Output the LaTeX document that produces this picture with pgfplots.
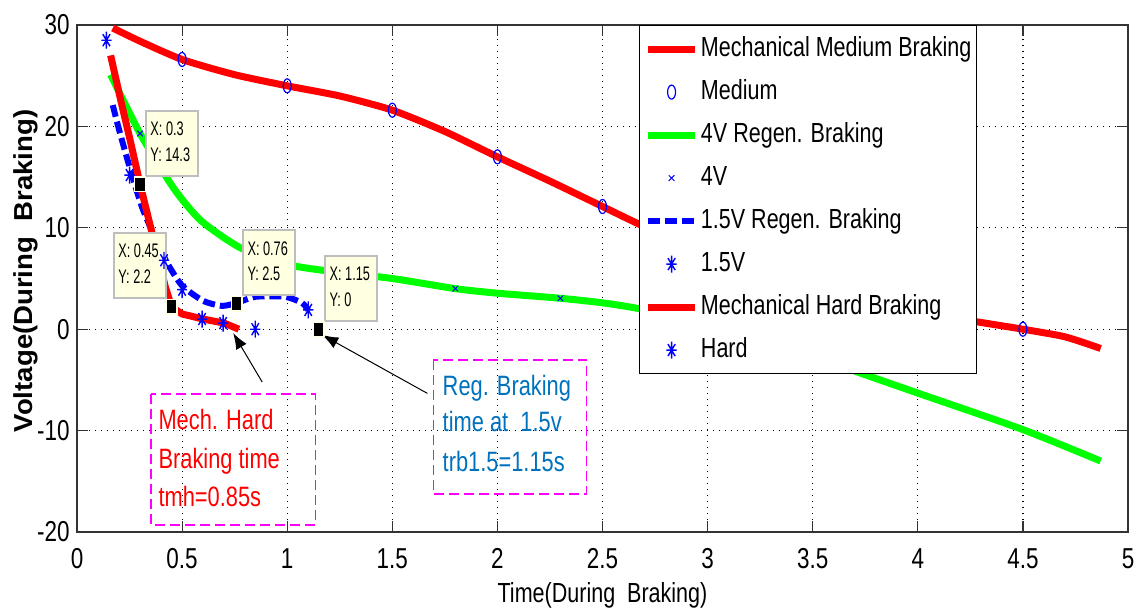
\documentclass[border=0pt]{standalone}
\usepackage{fontspec}
\setmainfont{Liberation Sans}[FakeStretch=0.78]
\newfontfamily\ylabfont{Liberation Sans}[FakeStretch=1.06]
\newfontfamily\tipfontfam{Liberation Sans}[FakeStretch=0.65]
\usepackage{pgfplots}
\pgfplotsset{compat=1.18}
\usetikzlibrary{arrows.meta}
\definecolor{tipfill}{RGB}{255,255,225}
\definecolor{tipborder}{RGB}{190,190,190}
\definecolor{annblue}{RGB}{0,114,189}
\definecolor{annmag}{RGB}{255,0,255}
\pgfdeclareplotmark{mstar}{%
  \pgfpathmoveto{\pgfpoint{-\pgfplotmarksize}{0pt}}%
  \pgfpathlineto{\pgfpoint{\pgfplotmarksize}{0pt}}%
  \pgfpathmoveto{\pgfpoint{0pt}{-\pgfplotmarksize}}%
  \pgfpathlineto{\pgfpoint{0pt}{\pgfplotmarksize}}%
  \pgfpathmoveto{\pgfpoint{-0.707\pgfplotmarksize}{-0.707\pgfplotmarksize}}%
  \pgfpathlineto{\pgfpoint{0.707\pgfplotmarksize}{0.707\pgfplotmarksize}}%
  \pgfpathmoveto{\pgfpoint{-0.707\pgfplotmarksize}{0.707\pgfplotmarksize}}%
  \pgfpathlineto{\pgfpoint{0.707\pgfplotmarksize}{-0.707\pgfplotmarksize}}%
  \pgfusepathqstroke}
\newcommand{\datatip}[4]{%
  \node[draw=tipborder, fill=tipfill, line width=0.8pt, anchor=north west,
        minimum width=26pt, minimum height=32.5pt, inner sep=0pt] (dt) at (axis cs:#1,#2) {};
  \node[anchor=base west, inner sep=0pt, font=\tipfontfam\fontsize{9.8}{11}\selectfont]
        at ([xshift=2.5pt,yshift=-13pt]dt.north west) {#3};
  \node[anchor=base west, inner sep=0pt, font=\tipfontfam\fontsize{9.8}{11}\selectfont]
        at ([xshift=2.5pt,yshift=-25.75pt]dt.north west) {#4};
}
\begin{document}
\begin{tikzpicture}
\path[use as bounding box] (-38.5pt,-41.5pt) rectangle (530.5pt,266pt);
\begin{axis}[
  at={(0pt,0pt)}, anchor=south west,
  scale only axis, width=525.5pt, height=253.5pt,
  xmin=0, xmax=5, ymin=-20, ymax=30,
  xtick={0,0.5,1,1.5,2,2.5,3,3.5,4,4.5,5},
  ytick={-20,-10,0,10,20,30},
  /pgf/number format/assume math mode=true,
  ticklabel style={font=\fontsize{14.4}{16}\selectfont},
  xticklabel style={inner sep=0pt, anchor=north, yshift=-8pt},
  yticklabel style={inner sep=0pt, anchor=east, xshift=-3.5pt},
  axis line style={black!80, line width=0.6pt},
  tick style={black!80, line width=0.6pt},
  major tick length=5.5pt,
  tick align=inside,
  grid=major,
  major grid style={black, line width=0.6pt, dash pattern=on 0.6pt off 2.4pt},
  xlabel={Time(During~~Braking)},
  xlabel style={at={(axis description cs:0.5,0)}, anchor=base, yshift=-35pt,
                inner sep=0pt, font=\fontsize{13.8}{16}\selectfont},
  ylabel={\ylabfont\bfseries Voltage(During~~Braking)},
  ylabel style={at={(axis description cs:0,0.515)}, anchor=base, yshift=22pt,
                inner sep=0pt, font=\fontsize{13}{15}\selectfont},
  legend style={at={(0.5347,1)}, anchor=north west, draw=black, line width=0.6pt,
                fill=white, inner xsep=2.5pt, inner ysep=5pt, row sep=8pt, column sep=1.2pt,
                font=\fontsize{13.8}{16}\selectfont, cells={anchor=west},
                nodes={inner sep=0pt, text height=10.5pt, text depth=3pt}},
  legend cell align=left,
  legend image code/.code={\draw[mark repeat=2,mark phase=2,#1] plot coordinates {(0pt,0pt) (11.75pt,0pt) (23.5pt,0pt)};},
]
% Mechanical Medium Braking
\addplot[red, line width=3.5pt, smooth, tension=0.4] coordinates {
 (0.17,29.7) (0.3,28.4) (0.5,26.6) (0.75,25.1) (1.0,24.0) (1.25,23.0) (1.5,21.6)
 (1.75,19.5) (2.0,17.0) (2.25,14.6) (2.5,12.1) (2.68,10.3) (3.0,7.3) (3.5,3.9)
 (4.0,1.7) (4.29,0.7) (4.5,0.0) (4.7,-0.75) (4.87,-1.9)};
\addlegendentry{Mechanical Medium Braking}
\addplot[blue, only marks, mark=o, mark size=3.5pt, mark options={xscale=0.57, line width=0.6pt}] coordinates {
 (0.5,26.6) (1.0,24.0) (1.5,21.6) (2.0,17.0) (2.5,12.1) (3.0,7.3) (3.5,3.9) (4.0,1.7) (4.5,0.0)};
\addlegendentry{Medium}
% 4V Regen
\addplot[green, line width=3.5pt, smooth, tension=0.4] coordinates {
 (0.16,25.1) (0.3,19.3) (0.46,13.9) (0.59,10.7) (0.78,8.0) (1.02,6.3) (1.25,5.6)
 (1.5,5.0) (1.8,4.0) (2.0,3.55) (2.3,3.05) (2.5,2.6) (2.68,2.0) (3.0,0.5) (3.25,-0.9)
 (3.5,-2.6) (3.71,-4.2) (4.0,-6.3) (4.5,-9.9) (4.87,-13.0)};
\addlegendentry{4V Regen. Braking}
\addplot[blue, only marks, mark=x, mark size=2pt, mark options={line width=0.5pt}] coordinates {
 (0.3,19.3) (1.8,4.0) (2.3,3.05)};
\addlegendentry{4V}
% 1.5V Regen
\addplot[blue, line width=3pt, dash pattern=on 6pt off 2.5pt, smooth, tension=0.4] coordinates {
 (0.17,22.1) (0.205,19.3) (0.26,15.3) (0.31,12.0) (0.37,9.1) (0.43,6.5) (0.5,4.3)
 (0.6,2.8) (0.69,2.3) (0.76,2.6) (0.85,3.2) (0.99,3.2) (1.07,2.6) (1.1,1.9)};
\addlegendentry{1.5V Regen. Braking}
\addplot[blue, only marks, mark=mstar, mark size=4.25pt, mark options={xscale=0.6, line width=0.7pt}] coordinates {
 (0.14,28.5) (0.25,15.2) (0.414,6.8) (0.5,3.9) (1.1,1.9)};
\addlegendentry{1.5V}
% Mechanical Hard
\addplot[red, line width=3.5pt] coordinates {
 (0.16,27.0) (0.21,22.4) (0.25,18.9) (0.3,14.3) (0.357,9.5) (0.42,4.2) (0.45,2.2)
 (0.5,1.5) (0.6,1.0) (0.7,0.6) (0.77,0.0)};
\addlegendentry{Mechanical Hard Braking}
\addplot[blue, only marks, mark=mstar, mark size=4.25pt, mark options={xscale=0.6, line width=0.7pt}] coordinates {
 (0.595,1.0) (0.695,0.6) (0.848,0.0)};
\addlegendentry{Hard}
% data tip markers
\addplot[forget plot, only marks, mark=square*, mark size=2.7pt,
  mark options={fill=black, draw=tipfill, line width=0.8pt, yscale=1.35}] coordinates {
 (0.3,14.3) (0.45,2.2) (0.76,2.5) (1.15,0)};
% data tips
\datatip{0.3238}{21.62}{X: 0.3}{Y: 14.3}
\datatip{0.1714}{9.59}{X: 0.45}{Y: 2.2}
\datatip{0.7857}{9.88}{X: 0.76}{Y: 2.5}
\datatip{1.176}{7.32}{X: 1.15}{Y: 0}
% annotation boxes
\draw[annmag, line width=0.6pt, dash pattern=on 5pt off 2.5pt] (axis cs:0.352,-6.39) rectangle (axis cs:1.133,-19.31);
\draw[annmag, line width=0.6pt, dash pattern=on 5pt off 2.5pt] (axis cs:1.695,-3.03) rectangle (axis cs:2.424,-16.25);
\node[anchor=base west, inner sep=0pt, text=red, font=\fontsize{14}{16}\selectfont] at (axis cs:0.386,-9.94) {Mech. Hard};
\node[anchor=base west, inner sep=0pt, text=red, font=\fontsize{14}{16}\selectfont] at (axis cs:0.386,-13.69) {Braking time};
\node[anchor=base west, inner sep=0pt, text=red, font=\fontsize{14}{16}\selectfont] at (axis cs:0.386,-17.44) {tmh=0.85s};
\node[anchor=base west, inner sep=0pt, text=annblue, font=\fontsize{14}{16}\selectfont] at (axis cs:1.738,-6.49) {Reg. Braking};
\node[anchor=base west, inner sep=0pt, text=annblue, font=\fontsize{14}{16}\selectfont] at (axis cs:1.738,-10.11) {time at~~1.5v};
\node[anchor=base west, inner sep=0pt, text=annblue, font=\fontsize{14}{16}\selectfont] at (axis cs:1.738,-14.05) {trb1.5=1.15s};
% arrows
\draw[-{Latex[length=8pt,width=6pt]}, line width=0.5pt, black] (axis cs:0.881,-5.21) -- (axis cs:0.743,-0.38);
\draw[-{Latex[length=8pt,width=6pt]}, line width=0.5pt, black] (axis cs:1.667,-6.33) -- (axis cs:1.167,-0.57);
\end{axis}
\end{tikzpicture}
\end{document}
